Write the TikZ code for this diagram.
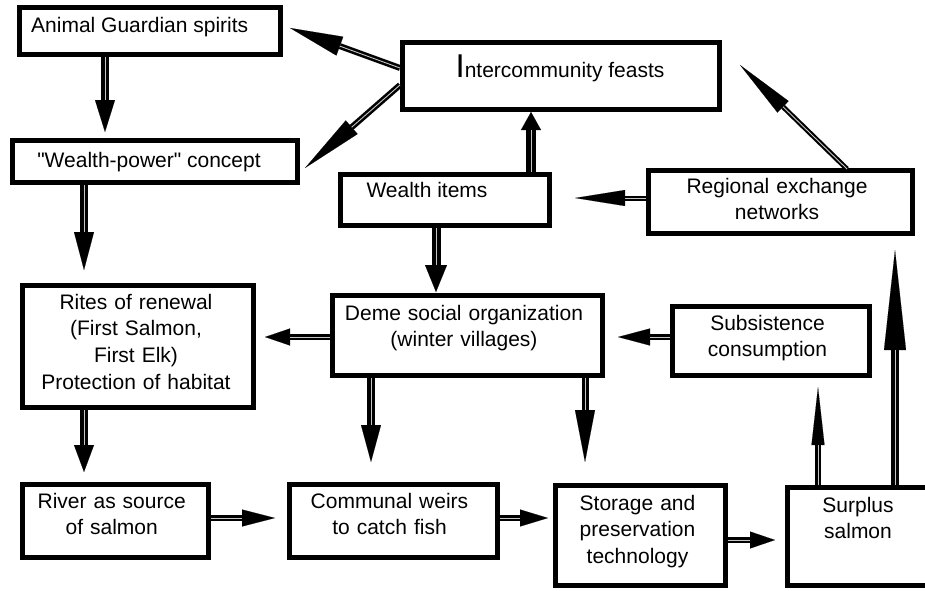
\documentclass[tikz,border=0pt]{standalone}
\usepackage{fontspec}
\setmainfont{Liberation Sans}[Ligatures=TeXOff]
\usetikzlibrary{arrows.meta}
\tikzset{
  box/.style={draw, line width=5pt, rectangle, inner sep=0pt},
  txt/.style={font=\fontsize{21}{26.8}\selectfont, anchor=base, align=center, inner sep=0pt},
}
\newcommand\conn[5]{%
  \draw[line width=#3, -{Triangle[length=#4, width=#5, line width=0.1pt]}] (#1) -- (#2);
  \draw[line width=0.9pt, gray!45, shorten >=#4] (#1) -- (#2);
}
\begin{document}
\begin{tikzpicture}[x=1pt, y=-1pt]
\useasboundingbox (0,0) rectangle (925,590);
\clip (0,0) rectangle (925,590);
% boxes
\node[box, minimum width=261pt, minimum height=47pt] (ags) at (150,31) {};
\node[box, minimum width=285pt, minimum height=42pt] (wp) at (155,161.5) {};
\node[box, minimum width=317pt, minimum height=67pt] (ic) at (561,76) {};
\node[box, minimum width=209pt, minimum height=51pt] (wi) at (445,200) {};
\node[box, minimum width=264pt, minimum height=63pt] (ren) at (780.5,202) {};
\node[box, minimum width=231pt, minimum height=122pt] (rit) at (138,346.5) {};
\node[box, minimum width=270pt, minimum height=80pt] (dem) at (467.5,335.5) {};
\node[box, minimum width=197pt, minimum height=69pt] (sub) at (771,341) {};
\node[box, minimum width=186pt, minimum height=73pt] (riv) at (115.5,521) {};
\node[box, minimum width=208pt, minimum height=73pt] (com) at (393.5,521) {};
\node[box, minimum width=170pt, minimum height=100pt] (sto) at (640.5,535.5) {};
\node[box, minimum width=155pt, minimum height=98pt] (sur) at (865,536.5) {};
% texts
\node[txt, anchor=base west] (t-ags) at (31,32) {Animal Guardian spirits};
\node[txt] (t-wp) at (149,167) {"Wealth-power" concept};
\node[txt] (t-ic) at (560,77) {{\fontsize{33}{33}\selectfont I}ntercommunity feasts};
\node[txt] (t-wi) at (427,197) {Wealth items};
\node[txt, text width=260pt] (t-ren) at (777,193) {Regional exchange\\networks};
\node[txt, text width=230pt] (t-rit) at (136,309) {Rites of renewal\\(First Salmon,\\First Elk)\\Protection of habitat};
\node[txt, text width=270pt] (t-dem) at (464,320) {Deme social organization\\(winter villages)};
\node[txt, text width=200pt] (t-sub) at (767.5,330) {Subsistence\\consumption};
\node[txt, text width=186pt] (t-riv) at (111.7,508) {River as source\\of salmon};
\node[txt, text width=208pt] (t-com) at (389.5,508) {Communal weirs\\to catch fish};
\node[txt, text width=170pt] (t-sto) at (637.5,510) {Storage and\\preservation\\technology};
\node[txt, text width=150pt] (t-sur) at (858,512) {Surplus\\salmon};
% connectors
\conn{[xshift=-45pt]ags.south}{[xshift=-50pt,yshift=6pt]wp.north}{8pt}{32pt}{20pt}
\conn{[yshift=8pt]ic.west}{[xshift=7pt,yshift=3pt]ags.east}{6pt}{53pt}{20pt}
\conn{[yshift=-9pt]ic.west}{[xshift=5pt,yshift=-6.5pt]wp.east}{6pt}{62pt}{18pt}
\conn{[xshift=-71pt]wp.south}{[xshift=-54pt,yshift=13pt]rit.north}{8pt}{38pt}{20pt}
\conn{[xshift=86pt]wi.north}{[xshift=-30pt]ic.south}{10pt}{18pt}{20pt}
\conn{[xshift=66.5pt,yshift=-1pt]ren.north}{[xshift=18pt,yshift=11pt]ic.east}{5pt}{60pt}{16pt}
\conn{[yshift=4pt]ren.west}{[xshift=23pt,yshift=2pt]wi.east}{5pt}{50pt}{16pt}
\conn{[xshift=-9pt]wi.south}{[xshift=-31.5pt,yshift=1pt]dem.north}{9pt}{27pt}{22pt}
\conn{[yshift=-1.5pt]dem.west}{[xshift=9pt,yshift=9.5pt]rit.east}{6pt}{25pt}{17pt}
\conn{[xshift=-96.5pt]dem.south}{[xshift=-22.5pt,yshift=20pt]com.north}{8pt}{37pt}{20pt}
\conn{[xshift=117.5pt]dem.south}{[xshift=-55.5pt,yshift=21pt]sto.north}{7pt}{52pt}{20pt}
\conn{[yshift=4pt]sub.west}{[xshift=13pt,yshift=-1.5pt]dem.east}{6pt}{32pt}{17pt}
\conn{[xshift=-54pt]rit.south}{[xshift=-31.5pt,yshift=10pt]riv.north}{8pt}{27pt}{20pt}
\conn{[yshift=3pt]riv.east}{[xshift=-12pt,yshift=3pt]com.west}{6pt}{33pt}{17pt}
\conn{[yshift=3pt]com.east}{[xshift=-5pt,yshift=17.5pt]sto.west}{6pt}{28pt}{17pt}
\conn{[yshift=-4.5pt]sto.east}{[xshift=-10pt,yshift=-3.5pt]sur.west}{6pt}{25pt}{17pt}
\conn{[xshift=-47pt]sur.north}{[xshift=47pt,yshift=-9pt]sub.south}{6pt}{58pt}{13pt}
\conn{[xshift=30pt]sur.north}{[xshift=114.5pt,yshift=-14pt]ren.south}{8pt}{100pt}{22pt}
\end{tikzpicture}
\end{document}
